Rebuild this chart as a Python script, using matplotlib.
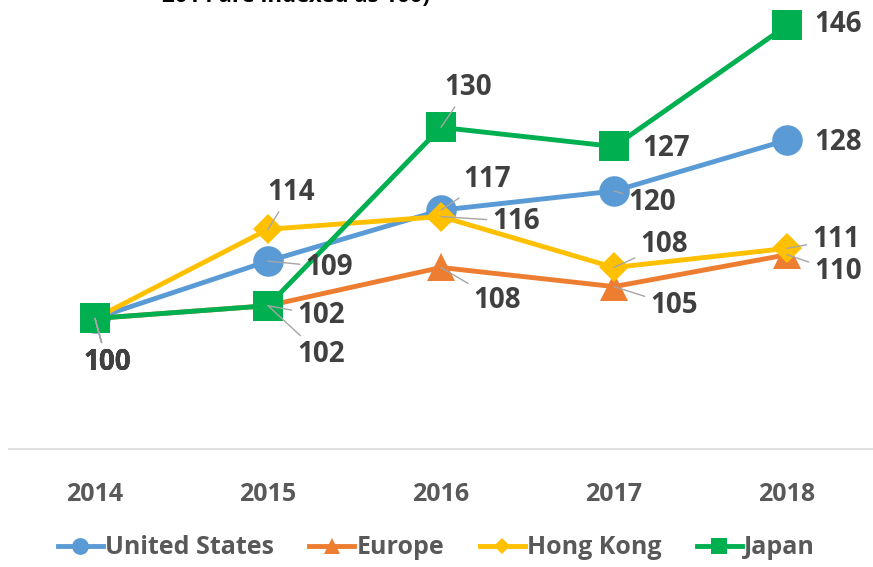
import numpy as np
import matplotlib.pyplot as plt
from matplotlib.lines import Line2D

years = ['2014', '2015', '2016', '2017', '2018']
us = [100, 109, 117, 120, 128]
europe = [100, 102, 108, 105, 110]
hong_kong = [100, 114, 116, 108, 111]
japan = [100, 102, 130, 127, 146]

series_names = ['United States', 'Europe', 'Hong Kong', 'Japan']
series_values = [us, europe, hong_kong, japan]

# label offsets in pixels from each point, and whether a leader line shows
label_offsets = [
    [(12, -44), (61, -6), (46, 31), (38, -11), (51, -2)],
    [(12, -44), (53, -49), (56, -33), (60, -19), (51, -17)],
    [(12, -44), (23, 37), (75, -5), (50, 23), (49, 9)],
    [(12, -44), (53, -10), (27, 40), (52, -2), (51, 1)],
]
leaders = [
    [True, True, True, True, False],
    [True, True, True, True, True],
    [True, True, True, True, True],
    [True, True, True, False, False],
]

colors = ['#5B9BD5', '#ED7D31', '#FFC000', '#00B050']
markers = ['o', '^', 'D', 's']
msizes = [22, 20, 15, 21]

label_font = ['Open Sans', 'DejaVu Sans']

fig = plt.figure(figsize=(8.73, 5.67), dpi=100)
ax = fig.add_axes([8.5 / 873, 118 / 567, 865 / 873, 449 / 567])

x = np.arange(len(years))
for vals, col, mk, ms in zip(series_values, colors, markers, msizes):
    ax.plot(x, vals, color=col, lw=3.5, marker=mk, markersize=ms,
            markeredgewidth=0, solid_capstyle='round')

for s, vals in enumerate(series_values):
    for i, v in enumerate(vals):
        dx, dy = label_offsets[s][i]
        arrow = None
        if leaders[s][i]:
            arrow = dict(arrowstyle='-', color='#A6A6A6', lw=1,
                         shrinkA=2, shrinkB=0)
        ax.annotate(str(v), xy=(i, v), xytext=(dx, dy),
                    textcoords='offset pixels', ha='center', va='center',
                    fontsize=20, fontweight='bold', color='#404040',
                    family=label_font, arrowprops=arrow, zorder=5)

ax.set_xlim(-0.5, 4.5)
ax.set_ylim(79.5, 150)
ax.set_xticks(x)
ax.set_xticklabels(years, fontsize=18, fontweight='bold', color='#595959',
                   family=label_font)
ax.tick_params(axis='x', length=0, pad=24)
ax.set_yticks([])
for side in ['left', 'right', 'top']:
    ax.spines[side].set_visible(False)
ax.spines['bottom'].set_color('#D9D9D9')
ax.spines['bottom'].set_linewidth(1.2)

# subtitle, cut by the top edge as in the source picture
fig.text(162 / 873, 1 - 2 / 567, '2014 are indexed as 100)', fontsize=16,
         fontweight='bold', color='black', family=label_font, va='baseline')

handles = [Line2D([0], [0], color=c, lw=3.5, marker=m, markersize=ms * 0.55,
                  markeredgewidth=0)
           for c, m, ms in zip(colors, markers, msizes)]
fig.legend(handles, series_names, loc='center', bbox_to_anchor=(0.5, 1 - 548 / 567),
           ncol=4, frameon=False, handlelength=1.8, handletextpad=0.1,
           columnspacing=1.4,
           prop={'family': label_font, 'size': 18, 'weight': 'bold'},
           labelcolor='#595959')

fig.savefig('out.png', dpi=100)
